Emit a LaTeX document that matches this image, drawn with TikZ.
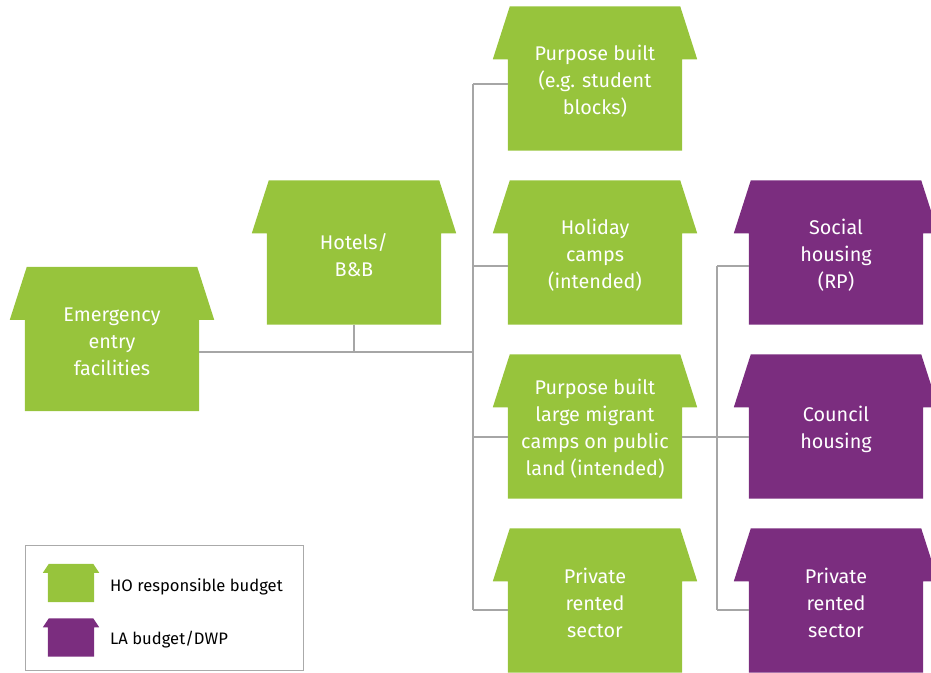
\documentclass[tikz,border=0pt]{standalone}
\usepackage{fontspec}
\setmainfont{Fira Sans}
\usetikzlibrary{backgrounds}
\definecolor{hogreen}{RGB}{151,196,60}
\definecolor{lapurple}{RGB}{123,45,127}
\definecolor{linkgray}{RGB}{166,166,166}
\definecolor{framegray}{RGB}{170,170,170}
\tikzset{
  house/.style={minimum width=174pt, minimum height=139pt, inner sep=0pt,
    text=white, align=center, font=\fontsize{19.8}{27}\selectfont},
  minihouse/.style={minimum width=46pt, minimum height=38pt, inner sep=0pt},
  legendtext/.style={anchor=west, inner sep=0pt, font=\fontsize{16.6}{19}\selectfont},
  link/.style={draw=linkgray, line width=1.2pt},
}
% #1 node, #2 colour, #3 eave drop below node top, #4 eave overhang,
% #5 ridge inset, #6 ridge rise above node top
\newcommand\housefill[6]{%
  \begin{pgfonlayer}{background}
  \fill[#2] ([xshift=#5,yshift=#6]#1.north west) -- ([xshift=-#5,yshift=#6]#1.north east)
    -- ([xshift=#4,yshift=-#3]#1.north east) -- ([yshift=-#3]#1.north east)
    -- (#1.south east) -- (#1.south west) -- ([yshift=-#3]#1.north west)
    -- ([xshift=-#4,yshift=-#3]#1.north west) -- cycle;
  \end{pgfonlayer}}
\begin{document}
\begin{tikzpicture}[x=1pt,y=1pt]
\useasboundingbox (0,0) rectangle (931,672);

% housing options
\node[house] (emerg) at (112,330.5) {Emergency\\entry\\facilities};
\node[house] (hotel) at (354,417) {Hotels/\\B\&B};
\node[house] (student) at (595,591) {Purpose built\\(e.g. student\\blocks)};
\node[house] (holiday) at (595,417) {Holiday\\camps\\(intended)};
\node[house] (camps) at (595,243) {Purpose built\\large migrant\\camps on public\\land (intended)};
\node[house] (privho) at (595,69) {Private\\rented\\sector};
\node[house] (social) at (836,417) {Social\\housing\\(RP)};
\node[house] (council) at (836,243) {Council\\housing};
\node[house] (privla) at (836,69) {Private\\rented\\sector};

\foreach \n in {emerg,hotel,student,holiday,camps,privho}
  {\housefill{\n}{hogreen}{48pt}{15pt}{2pt}{5pt}}
\foreach \n in {social,council,privla}
  {\housefill{\n}{lapurple}{48pt}{15pt}{2pt}{5pt}}

% connector junctions
\coordinate (join) at (473,320);
\coordinate (trunkA) at (473,588);
\coordinate (trunkB) at (473,406);
\coordinate (trunkC) at (473,235);
\coordinate (trunkD) at (473,62);
\coordinate (laA) at (717,406);
\coordinate (laB) at (717,235);
\coordinate (laC) at (717,62);

\draw[link] (emerg.east |- join) -- (join);
\draw[link] (hotel.south) -- (hotel.south |- join);
\draw[link] (trunkA) -- (trunkD);
\draw[link] (trunkA) -- (student.west |- trunkA);
\draw[link] (trunkB) -- (holiday.west |- trunkB);
\draw[link] (trunkC) -- (camps.west |- trunkC);
\draw[link] (trunkD) -- (privho.west |- trunkD);
\draw[link] (laA) -- (laC);
\draw[link] (camps.east |- laB) -- (council.west |- laB);
\draw[link] (laA) -- (social.west |- laA);
\draw[link] (laC) -- (privla.west |- laC);

% key
\node[draw=framegray, line width=1pt, minimum width=278pt, minimum height=125pt,
  inner sep=0pt] (key) at (164,64.5) {};
\node[minihouse] (keyho) at (71,89) {};
\node[minihouse] (keyla) at (71,34.5) {};
\housefill{keyho}{hogreen}{9pt}{5pt}{1pt}{0pt}
\housefill{keyla}{lapurple}{9pt}{5pt}{1pt}{0pt}
\node[legendtext] (keyhotext) at (110,85) {HO responsible budget};
\node[legendtext] (keylatext) at (110,32) {LA budget/DWP};
\end{tikzpicture}
\end{document}
